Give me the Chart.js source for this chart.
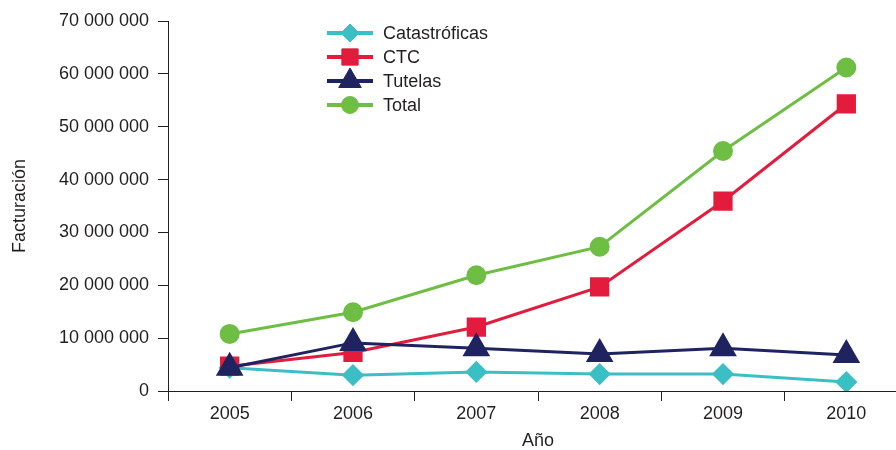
<!DOCTYPE html>
<html>
<head>
<meta charset="utf-8">
<script src="https://cdn.jsdelivr.net/npm/chart.js@4"></script>
<style>
  html, body { margin: 0; padding: 0; background: #fff; overflow: hidden; }
  #mycanvas { display: block; width: 924px; height: 450px; }
</style>
</head>
<body>
<canvas id="mycanvas" width="924" height="450"></canvas>
<script>
var years = ['2005', '2006', '2007', '2008', '2009', '2010'];
var catastroficas = [4400000, 3000000, 3600000, 3200000, 3200000, 1700000];
var ctc = [4700000, 7300000, 12100000, 19700000, 35900000, 54300000];
var tutelas = [4400000, 9100000, 8100000, 7000000, 8100000, 6800000];
var total = [10800000, 14900000, 21900000, 27300000, 45400000, 61200000];
var yTicks = [0, 10000000, 20000000, 30000000, 40000000, 50000000, 60000000, 70000000];

function fmt(v) {
	return String(v).replace(/\B(?=(\d{3})+(?!\d))/g, ' ');
}

var FONT = '"Liberation Sans", Arial, sans-serif';
var TXT = '#231f20';
var FS = 18;

// lower "order" is drawn on top, so later series sit above earlier ones
var chartdata = {
	labels: years,
	datasets: [
		{
			label: 'Catastróficas',
			borderColor: '#3cbfc4',
			backgroundColor: '#3cbfc4',
			pointStyle: 'rectRot',
			pointRadius: 9,
			borderWidth: 3,
			order: 4,
			data: catastroficas
		},
		{
			label: 'CTC',
			borderColor: '#e31b3d',
			backgroundColor: '#e31b3d',
			pointStyle: 'rect',
			pointRadius: 11.5,
			borderWidth: 3,
			order: 3,
			data: ctc
		},
		{
			label: 'Tutelas',
			borderColor: '#1f2460',
			backgroundColor: '#1f2460',
			pointStyle: 'triangle',
			pointRadius: 13,
			borderWidth: 3,
			order: 2,
			data: tutelas
		},
		{
			label: 'Total',
			borderColor: '#6fbe44',
			backgroundColor: '#6fbe44',
			pointStyle: 'circle',
			pointRadius: 8.5,
			borderWidth: 3,
			order: 1,
			data: total
		}
	]
};

// legend drawn by hand: line sample with the marker in the middle
var legendPlugin = {
	id: 'lineLegend',
	afterDraw: function(chart) {
		var ctx = chart.ctx;
		var x0 = 327, x1 = 373, ty = 33, step = 24;
		ctx.save();
		chart.data.datasets.forEach(function(ds, i) {
			var y = ty + i * step;
			ctx.strokeStyle = ds.borderColor;
			ctx.lineWidth = 4;
			ctx.beginPath();
			ctx.moveTo(x0, y);
			ctx.lineTo(x1, y);
			ctx.stroke();
			ctx.fillStyle = ds.backgroundColor;
			ctx.lineWidth = 1;
			Chart.helpers.drawPoint(ctx, { pointStyle: ds.pointStyle, radius: ds.pointRadius, rotation: 0, borderWidth: 1 }, (x0 + x1) / 2, y);
			ctx.fillStyle = TXT;
			ctx.font = FS + 'px ' + FONT;
			ctx.textBaseline = 'middle';
			ctx.fillText(ds.label, 383, y + 1);
		});
		ctx.restore();
	}
};

var options = {
	responsive: false,
	maintainAspectRatio: false,
	animation: false,
	layout: { padding: { top: 21, right: 0, bottom: 0, left: 0 } },
	plugins: {
		legend: { display: false },
		tooltip: { enabled: false }
	},
	elements: { line: { tension: 0 } },
	scales: {
		x: {
			offset: true,
			grid: { drawOnChartArea: false, drawTicks: true, tickLength: 10, color: TXT, lineWidth: 1, offset: true },
			border: { display: true, color: TXT, width: 1 },
			ticks: { color: TXT, font: { family: FONT, size: FS }, padding: 2, maxRotation: 0 },
			title: { display: true, text: 'Año', color: TXT, font: { family: FONT, size: FS }, padding: { top: 4, bottom: -2 } },
			afterFit: function(s) { s.height = 59; }
		},
		y: {
			min: 0,
			max: 70000000,
			afterBuildTicks: function(s) { s.ticks = yTicks.map(function(v) { return { value: v }; }); },
			grid: { drawOnChartArea: false, drawTicks: true, tickLength: 10, color: TXT, lineWidth: 1 },
			border: { display: true, color: TXT, width: 1 },
			ticks: { color: TXT, font: { family: FONT, size: FS }, padding: 9, callback: function(v) { return fmt(v); } },
			title: { display: true, text: 'Facturación', color: TXT, font: { family: FONT, size: FS }, padding: { top: 9, bottom: 0 } },
			afterFit: function(s) { s.width = 168; }
		}
	}
};

var ctx = document.getElementById('mycanvas');
var lineGraph = new Chart(ctx, {
	type: 'line',
	data: chartdata,
	options: options,
	plugins: [legendPlugin]
});
</script>
</body>
</html>
